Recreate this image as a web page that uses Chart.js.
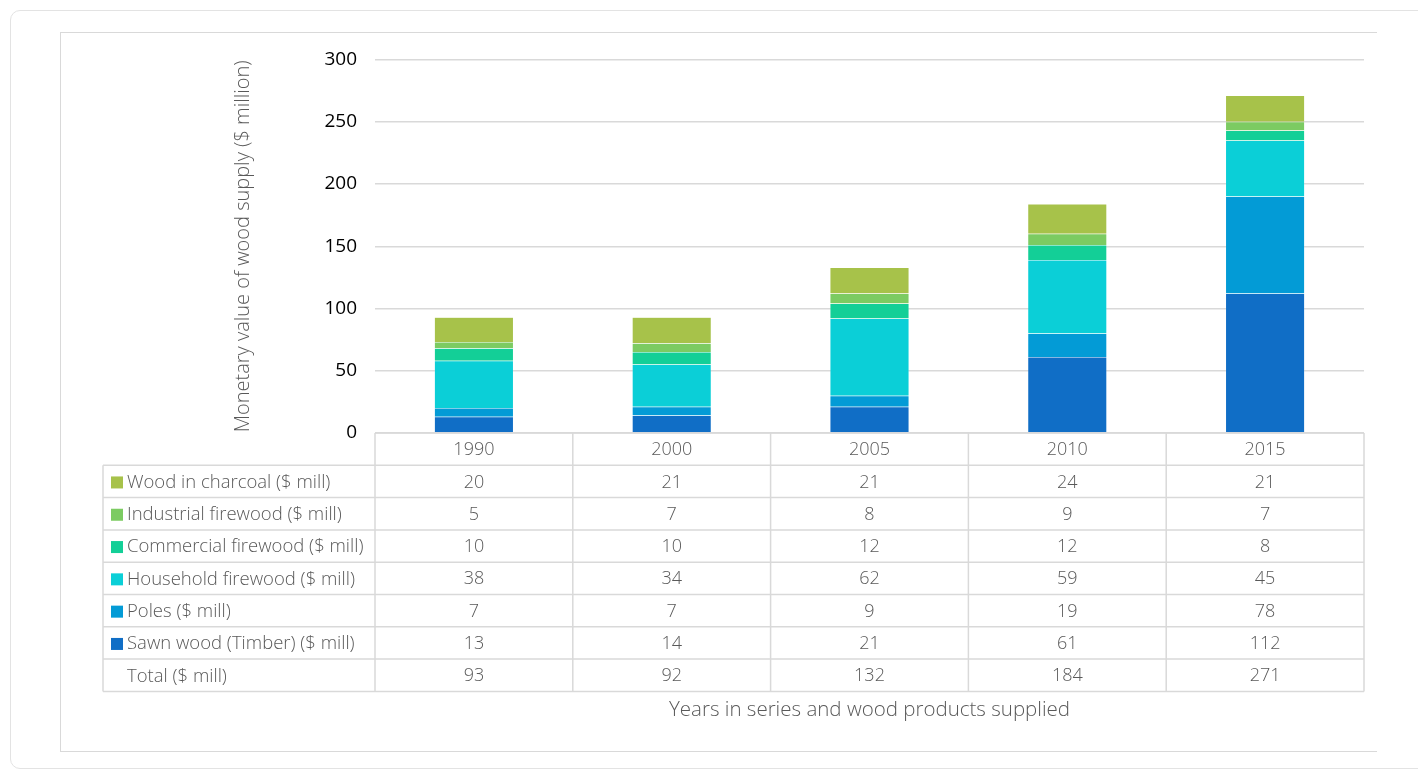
<!DOCTYPE html>
<html>
<head>
<meta charset="utf-8">
<script src="https://cdn.jsdelivr.net/npm/chart.js@4.4.0/dist/chart.umd.min.js"></script>
<style>
  body { margin: 0; background: #fff; overflow: hidden; }
  #wrap { position: relative; width: 1418px; height: 772px; }
  .card { position: absolute; left: 10px; top: 10px; width: 1420px; height: 759px;
          border: 1px solid #e3e3e3; border-radius: 10px; box-sizing: border-box; }
  .inner { position: absolute; left: 60px; top: 32px; width: 1317px; height: 720px;
           border: 1px solid #d9d9d9; border-right: none; box-sizing: border-box; }
  canvas { position: absolute; left: 0; top: 0; }
</style>
</head>
<body>
<div id="wrap">
  <div class="card"></div>
  <div class="inner"></div>
  <canvas id="chart" width="1418" height="772"></canvas>
</div>
<script>
const years = ['1990', '2000', '2005', '2010', '2015'];
const sawnWood = [13, 14, 21, 61, 112];
const poles = [7, 7, 9, 19, 78];
const household = [38, 34, 62, 59, 45];
const commercial = [10, 10, 12, 12, 8];
const industrial = [5, 7, 8, 9, 7];
const charcoal = [20, 21, 21, 24, 21];
const totals = [93, 92, 132, 184, 271];

const FONT = "'Open Sans', 'Noto Sans', sans-serif";
const GRID = '#d9d9d9';
const TEXT = '#595959';

// bottom of the stack first
const series = [
  { label: 'Sawn wood (Timber) ($ mill)', data: sawnWood, color: '#106ec6' },
  { label: 'Poles ($ mill)', data: poles, color: '#039bd6' },
  { label: 'Household firewood ($ mill)', data: household, color: '#0bcfd7' },
  { label: 'Commercial firewood ($ mill)', data: commercial, color: '#13cf97' },
  { label: 'Industrial firewood ($ mill)', data: industrial, color: '#7ccb62' },
  { label: 'Wood in charcoal ($ mill)', data: charcoal, color: '#a7c24a' }
];

// data table under the plot, drawn from the x scale
const dataTable = {
  id: 'dataTable',
  afterDraw(chart) {
    const { ctx, chartArea } = chart;
    const x = chart.scales.x;
    const catW = (chartArea.right - chartArea.left) / years.length;
    const top = chartArea.bottom;
    const headH = 32.3;
    const rowH = 32.3;
    const labelLeft = 103;
    const rows = series.slice().reverse();
    const nRows = rows.length + 1;
    const bottom = top + headH + rowH * nRows;

    ctx.save();
    ctx.strokeStyle = GRID;
    ctx.lineWidth = 1.5;
    ctx.beginPath();
    // header top
    ctx.moveTo(chartArea.left, top);
    ctx.lineTo(chartArea.right, top);
    // row lines
    for (let r = 0; r <= nRows; r++) {
      const y = top + headH + r * rowH;
      ctx.moveTo(labelLeft, y);
      ctx.lineTo(chartArea.right, y);
    }
    // verticals
    ctx.moveTo(labelLeft, top + headH);
    ctx.lineTo(labelLeft, bottom);
    for (let i = 0; i <= years.length; i++) {
      const vx = chartArea.left + i * catW;
      ctx.moveTo(vx, top);
      ctx.lineTo(vx, bottom);
    }
    ctx.stroke();

    ctx.fillStyle = TEXT;
    ctx.font = '300 18px ' + FONT;
    ctx.textBaseline = 'middle';
    ctx.textAlign = 'center';
    years.forEach((yr, i) => {
      ctx.fillText(yr, x.getPixelForValue(i), top + headH / 2 + 1);
    });

    rows.forEach((s, r) => {
      const cy = top + headH + r * rowH + rowH / 2 + 1;
      ctx.fillStyle = s.color;
      ctx.fillRect(111, cy - 6, 12, 12);
      ctx.fillStyle = TEXT;
      ctx.textAlign = 'left';
      ctx.font = '300 18.5px ' + FONT;
      ctx.fillText(s.label, 127, cy);
      ctx.textAlign = 'center';
      ctx.font = '300 18px ' + FONT;
      s.data.forEach((v, i) => ctx.fillText(String(v), x.getPixelForValue(i), cy));
    });
    const ty = top + headH + rows.length * rowH + rowH / 2 + 1;
    ctx.textAlign = 'left';
    ctx.font = '300 18.5px ' + FONT;
    ctx.fillText('Total ($ mill)', 127, ty);
    ctx.textAlign = 'center';
    ctx.font = '300 18px ' + FONT;
    totals.forEach((v, i) => ctx.fillText(String(v), x.getPixelForValue(i), ty));

    // axis title under the table
    ctx.font = '300 20.5px ' + FONT;
    ctx.fillText('Years in series and wood products supplied',
      (chartArea.left + chartArea.right) / 2, bottom + 19);
    ctx.restore();
  }
};

new Chart(document.getElementById('chart'), {
  type: 'bar',
  data: {
    labels: years,
    datasets: series.map(s => ({
      label: s.label,
      data: s.data,
      backgroundColor: s.color,
      borderColor: 'rgba(255,255,255,0.35)',
      borderWidth: 0.5,
      categoryPercentage: 1,
      barPercentage: 0.4
    }))
  },
  options: {
    responsive: false,
    animation: false,
    layout: { padding: { left: 228, top: 59.5, right: 54, bottom: 339 } },
    plugins: { legend: { display: false }, tooltip: { enabled: false } },
    scales: {
      x: { stacked: true, display: false },
      y: {
        stacked: true,
        min: 0,
        max: 300,
        ticks: { stepSize: 50, color: '#000', padding: 18, font: { family: FONT, size: 19 } },
        grid: { color: GRID, lineWidth: 1.5, drawTicks: false },
        border: { display: false },
        title: {
          display: true,
          text: 'Monetary value of wood supply ($ million)',
          color: TEXT,
          font: { family: FONT, size: 20, weight: '300' },
          padding: { top: 3, bottom: 0 }
        },
        afterFit(scale) { scale.width = 147; }
      }
    }
  },
  plugins: [dataTable]
});
</script>
</body>
</html>
